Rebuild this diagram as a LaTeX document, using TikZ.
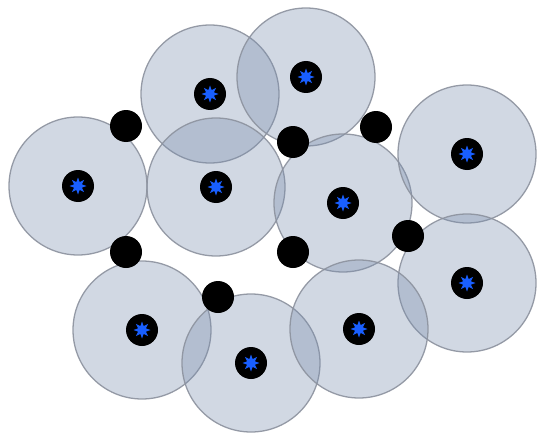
\documentclass[tikz,border=0pt]{standalone}
\usetikzlibrary{shapes.geometric}
\definecolor{cfill}{RGB}{120,140,172}
\definecolor{cedge}{RGB}{140,146,158}
\definecolor{starblue}{RGB}{25,95,255}
\tikzset{
  coverzone/.style={circle, minimum size=138pt, inner sep=0pt, fill=cfill, fill opacity=0.34, draw=cedge, draw opacity=0.9, line width=1.3pt},
  relaydot/.style={circle, minimum size=32pt, inner sep=0pt, fill=black},
  sensordot/.style={circle, minimum size=32pt, inner sep=0pt, fill=black},
  starmark/.style={star, star points=8, star point ratio=2.0, minimum size=17pt, inner sep=0pt, fill=starblue}
}
\begin{document}
\begin{tikzpicture}[x=1pt,y=-1pt]
\useasboundingbox (0,0) rectangle (537,433);
% coverage circles
\foreach \n/\x/\y in {c1/210/94, c2/306/77, c3/78/186, c4/216/187, c5/343/203, c6/467/154, c7/467/283, c8/142/330, c9/251/363, c10/359/329}{
  \node[coverzone] (\n) at (\x,\y) {};
}
% sensors with stars
\foreach \n/\x/\y in {c1/210/94, c2/306/77, c3/78/186, c4/216/187, c5/343/203, c6/467/154, c7/467/283, c8/142/330, c9/251/363, c10/359/329}{
  \node[sensordot] (s\n) at (\x,\y) {};
  \node[starmark] (m\n) at (\x,\y) {};
}
% relay dots
\node[relaydot] (r1) at (126,126) {};
\node[relaydot] (r2) at (293,142) {};
\node[relaydot] (r3) at (376,127) {};
\node[relaydot] (r4) at (126,252) {};
\node[relaydot] (r5) at (293,252) {};
\node[relaydot] (r6) at (408,236) {};
\node[relaydot] (r7) at (218,297) {};
\end{tikzpicture}
\end{document}
